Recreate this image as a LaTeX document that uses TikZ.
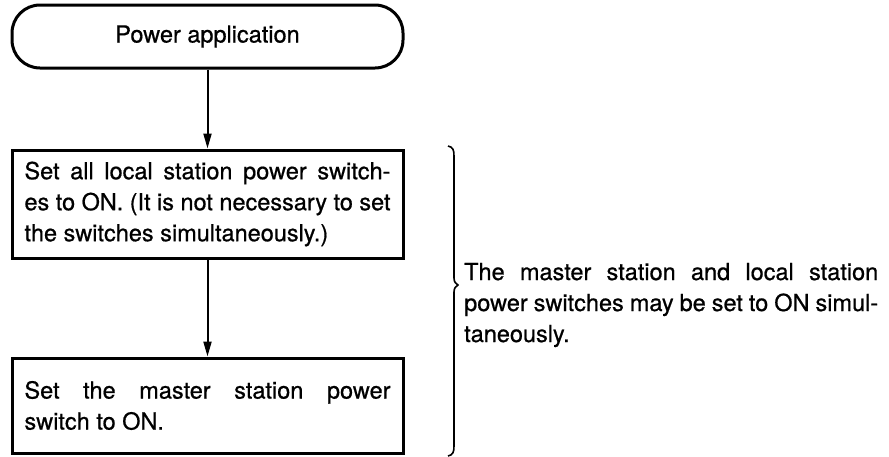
\documentclass[tikz,border=0pt]{standalone}
\usepackage{fontspec}
\setmainfont{TeX Gyre Heros}
\newfontface\heavyface{TeX Gyre Heros}[FakeBold=0.7]
\usetikzlibrary{arrows.meta}
\tikzset{
  boxtext/.style={font=\heavyface\fontsize{23.5}{31}\selectfont},
  stepbox/.style={draw, line width=3pt, rectangle, minimum width=391pt, minimum height=#1,
    text width=366pt, align=justify, inner xsep=12pt, inner ysep=0pt, boxtext},
  term/.style={draw, line width=3pt, rounded corners=28pt, minimum width=391pt, minimum height=63pt, boxtext},
  flow/.style={line width=2pt, -{Triangle[width=8pt,length=15pt]}},
  note/.style={text width=414pt, align=justify, inner sep=0pt, boxtext, anchor=west}
}
\begin{document}
\begin{tikzpicture}[x=1pt,y=-1pt]
\useasboundingbox (0,0) rectangle (889,456);
\node[term] (t) at (207.5,36.5) {Power\ application};
\node[stepbox=108pt] (b1) at (207.5,204) {\hyphenpenalty=10000 Set all local station power switch-\linebreak es to ON. (It is not necessary to set\linebreak the switches simultaneously.)};
\node[stepbox=95pt] (b2) at (207.5,405.5) {\hyphenpenalty=10000 Set the master station power\linebreak switch to ON.};
\draw[flow] (t.south) -- (b1.north);
\draw[flow] (b1.south) -- (b2.north);
\node[note] (n) at (464,305) {\hyphenpenalty=10000 The master station and local station\linebreak power switches may be set to ON simul-\linebreak taneously.};
\draw[line width=1.6pt] (448,146) .. controls (453,147) and (454,150) .. (454,156) -- (454,278) .. controls (454,282) and (456,284) .. (458,285) .. controls (456,286) and (454,288) .. (454,292) -- (454,446) .. controls (454,452) and (453,455) .. (448,456);
\end{tikzpicture}
\end{document}
